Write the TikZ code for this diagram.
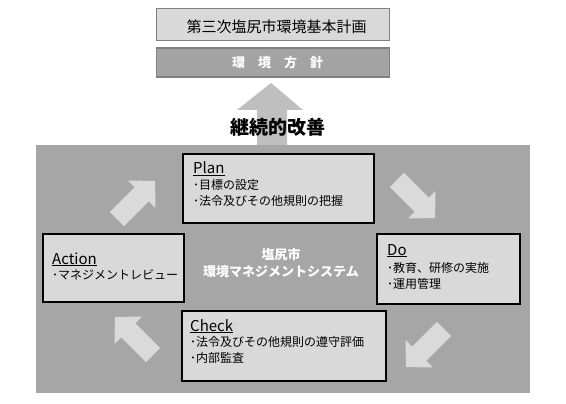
\documentclass[tikz,border=0pt]{standalone}
\usepackage{fontspec}
\setmainfont{Noto Sans CJK JP}
\definecolor{bggray}{HTML}{A6A6A6}
\definecolor{boxfill}{HTML}{D9D9D9}
\definecolor{arrowgray}{HTML}{DADADA}
\definecolor{upgray}{HTML}{BFBFBF}
\definecolor{frame}{HTML}{808080}
\definecolor{policy}{HTML}{A3A3A3}
\begin{document}
\begin{tikzpicture}[x=1pt,y=-1pt,
  topbox/.style={draw=frame,line width=1.5pt,fill=boxfill,minimum width=233pt,inner sep=0pt},
  pdcabox/.style={draw=black,line width=2pt,fill=boxfill,inner sep=0pt},
  ttl/.style={anchor=base west,inner sep=0pt,font=\fontsize{15}{15}\selectfont},
  body/.style={anchor=base west,inner sep=0pt,font=\fontsize{12}{12}\selectfont},
  ctr/.style={inner sep=0pt,text=white,font=\fontsize{13}{13}\selectfont\bfseries},
  blockarrow/.pic={\fill[arrowgray] (-27,-10) -- (8,-10) -- (8,-19.5) -- (27,0) -- (8,19.5) -- (8,10) -- (-27,10) -- cycle;}
]
\useasboundingbox (0,0) rectangle (566,404);
\fill[white] (0,0) rectangle (566,404);
% top boxes
\node[topbox,minimum height=32pt] (plan0) at (273,24.5) {};
\node[inner sep=0pt,font=\fontsize{15}{15}\selectfont] (plan0t) at (276.5,26.5) {第三次塩尻市環境基本計画};
\node[topbox,fill=policy,minimum height=29pt] (policy) at (273,62.5) {};
\node[inner sep=0pt,text=white,font=\fontsize{13}{13}\selectfont\bfseries] (policyt) at (277.5,62.5) {環\hspace{13pt}境\hspace{13pt}方\hspace{13pt}針};
% upward arrow
\fill[upgray] (271,83) -- (303,110) -- (287,110) -- (287,146) -- (257,146) -- (257,110) -- (237,110) -- cycle;
% big background
\fill[bggray] (36,145) rectangle (530,393);
% continual improvement text
\node[inner sep=0pt,font=\fontsize{19}{19}\selectfont\bfseries] (kaizen) at (277.5,127) {継続的改善};
% PDCA boxes
\node[pdcabox,minimum width=191pt,minimum height=69pt] (plan) at (278.5,188.5) {};
\node[pdcabox,minimum width=143pt,minimum height=70pt] (do) at (448.5,269) {};
\node[pdcabox,minimum width=141pt,minimum height=68pt] (action) at (113.5,268) {};
\node[pdcabox,minimum width=204pt,minimum height=70pt] (check) at (284,346) {};
% texts
\node[ttl] (planT) at (193,174) {\underline{Plan}};
\node[body] (planA) at (193,189.5) {･目標の設定};
\node[body] (planB) at (193,205) {･法令及びその他規則の把握};
\node[ttl] (doT) at (387,255) {\underline{Do}};
\node[body] (doA) at (387,272.5) {･教育、研修の実施};
\node[body] (doB) at (387,288.5) {･運用管理};
\node[ttl] (actionT) at (52,264) {\underline{Action}};
\node[body] (actionA) at (52,279.5) {･マネジメントレビュー};
\node[ttl] (checkT) at (190,331) {\underline{Check}};
\node[body] (checkA) at (190,346.5) {･法令及びその他規則の遵守評価};
\node[body] (checkB) at (190,362.5) {･内部監査};
% centre
\node[ctr] (c1) at (281,255) {塩尻市};
\node[ctr] (c2) at (281,272) {環境マネジメントシステム};
% cycle arrows
\pic[rotate=45] at (136,200) {blockarrow};
\pic[rotate=-45] at (416,199) {blockarrow};
\pic[rotate=-135] at (425,348) {blockarrow};
\pic[rotate=135] at (134,336) {blockarrow};
\end{tikzpicture}
\end{document}
